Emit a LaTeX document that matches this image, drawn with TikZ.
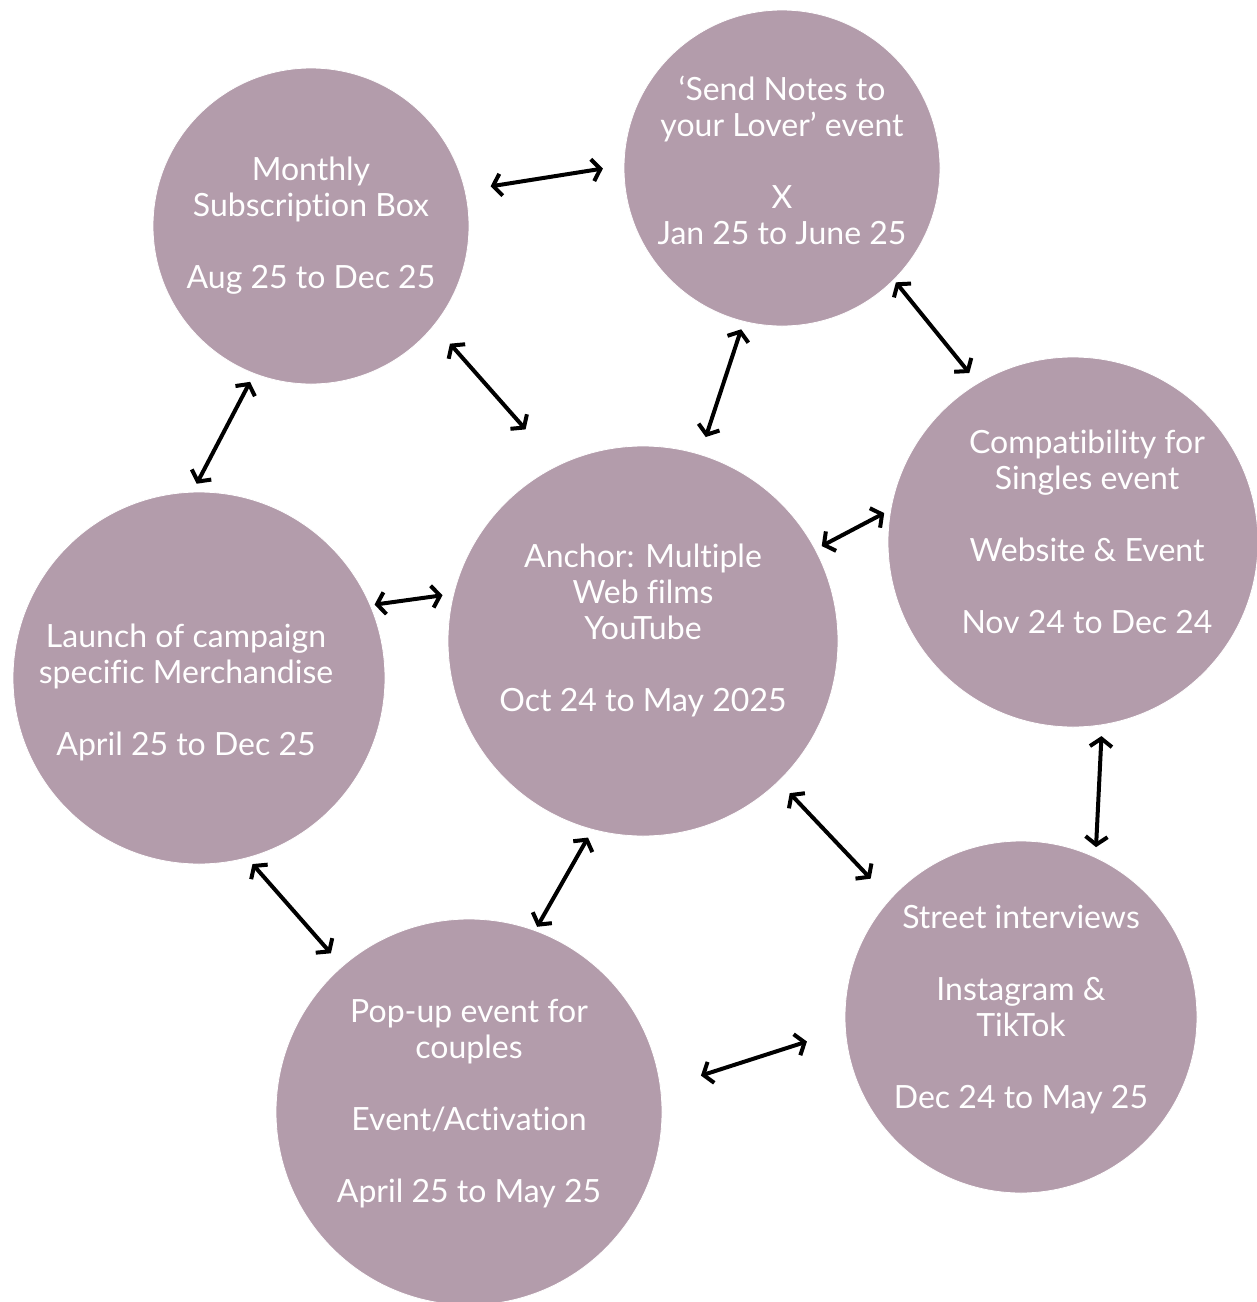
\documentclass[tikz,border=0pt]{standalone}
\usepackage{fontspec}
\setmainfont{Lato}[Ligatures=NoCommon]
\usetikzlibrary{arrows.meta}
\definecolor{mauve}{HTML}{B39CAB}
\tikzset{
  bubble/.style={circle,fill=mauve,draw=white,inner sep=0pt},
  txt/.style={text=white,align=center,inner sep=0pt,font=\fontsize{16}{18}\selectfont},
  link/.style={{Straight Barb[length=4pt,width=11pt]}-{Straight Barb[length=4pt,width=11pt]},line width=2pt}
}
\begin{document}
\begin{tikzpicture}[x=0.5pt,y=-0.5pt]
\useasboundingbox (0,0) rectangle (1257,1302);
\node[bubble,minimum size=158pt,label={[txt]center:{Monthly\\Subscription Box\\[18pt]Aug 25 to Dec 25}}] (box) at (311,226) {};
\node[bubble,minimum size=158pt,label={[txt,yshift=3.75pt]center:{‘Send Notes to\\your Lover’ event\\[18pt]X\\Jan 25 to June 25}}] (notes) at (782,168) {};
\node[bubble,minimum size=185pt,label={[txt,xshift=7pt,yshift=5.25pt]center:{Compatibility for\\Singles event\\[18pt]Website \& Event\\[18pt]Nov 24 to Dec 24}}] (compat) at (1073,542) {};
\node[bubble,minimum size=195pt,label={[txt,yshift=5.5pt]center:{Anchor: Multiple\\Web films\\YouTube\\[18pt]Oct 24 to May 2025}}] (anchor) at (643,641) {};
\node[bubble,minimum size=186pt,label={[txt,xshift=-6.5pt,yshift=-7.25pt]center:{Launch of campaign\\specific Merchandise\\[18pt]April 25 to Dec 25}}] (launch) at (199,678) {};
\node[bubble,minimum size=176pt,label={[txt,yshift=3.75pt]center:{Street interviews\\[18pt]Instagram \&\\TikTok\\[18pt]Dec 24 to May 25}}] (street) at (1021,1017) {};
\node[bubble,minimum size=193pt,label={[txt,yshift=4pt]center:{Pop-up event for\\couples\\[18pt]Event/Activation\\[18pt]April 25 to May 25}}] (popup) at (469,1112) {};
% two-way links
\foreach \a/\b/\s/\t in {box.13/notes.179/12.8/10.5, box.-39/anchor.116/12/24,
  notes.-104/anchor.73/4/9, notes.-45/compat.121/1.5/6.5, box.-111/launch.92/4.5/4.5,
  anchor.28/compat.170/3.5/3.5, launch.23/anchor.166/2/5.5, compat.-81/street.65/5.5/5,
  anchor.-46/street.138/8/14, anchor.-105/popup.70/4.5/2, launch.-75/popup.131/4/8.5,
  popup.7/street.184/21/20}
  \draw[link,shorten <=\s pt,shorten >=\t pt] (\a) -- (\b);
\end{tikzpicture}
\end{document}
